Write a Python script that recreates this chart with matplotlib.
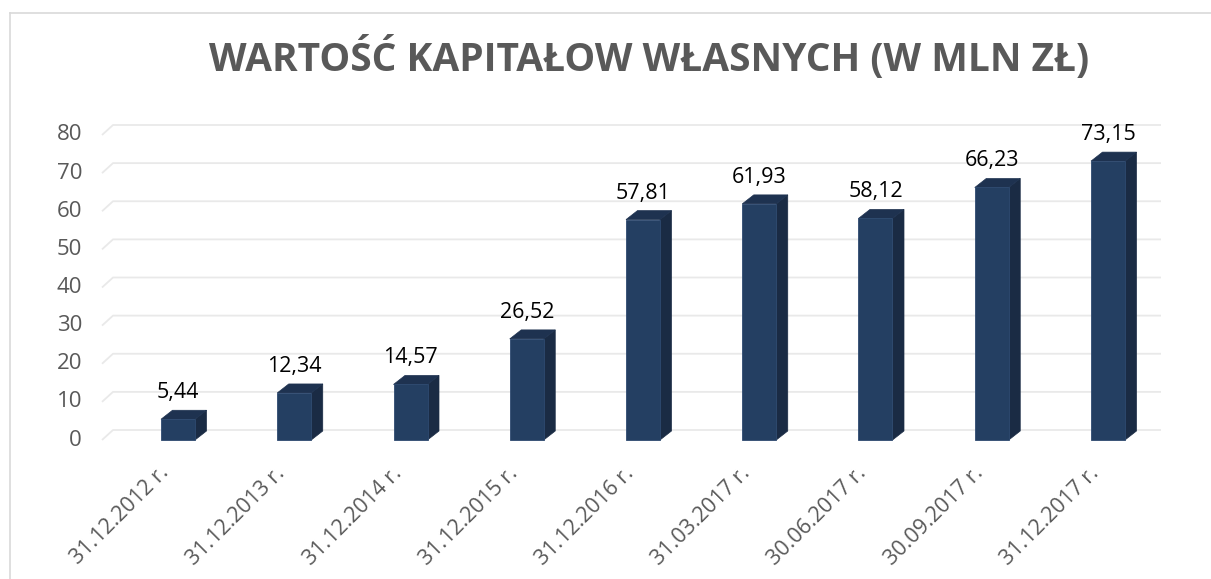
import numpy as np
import matplotlib
matplotlib.use('Agg')
import matplotlib.pyplot as plt
from matplotlib.patches import Polygon
from matplotlib.lines import Line2D

# dane
dates = ['31.12.2012 r.', '31.12.2013 r.', '31.12.2014 r.', '31.12.2015 r.', '31.12.2016 r.',
         '31.03.2017 r.', '30.06.2017 r.', '30.09.2017 r.', '31.12.2017 r.']
values = [5.44, 12.34, 14.57, 26.52, 57.81, 61.93, 58.12, 66.23, 73.15]
value_labels = ['5,44', '12,34', '14,57', '26,52', '57,81', '61,93', '58,12', '66,23', '73,15']
y_ticks = [0, 10, 20, 30, 40, 50, 60, 70, 80]
title = 'WARTOŚĆ KAPITAŁOW WŁASNYCH (W MLN ZŁ)'

front_col = '#243F62'
side_col = '#1A2B44'
top_col = '#1E3250'
grid_col = '#E9E9E9'
text_col = '#595959'

plt.rcParams['font.family'] = ['Open Sans', 'DejaVu Sans']

W, H = 1211, 579
fig = plt.figure(figsize=(W / 100, H / 100), dpi=100)

# os w pikselach (plaszczyzna przednia)
left, right, bottom, top = 102, 1150, 440, 135
ax = fig.add_axes([left / W, 1 - bottom / H, (right - left) / W, (bottom - top) / H])
step = 116.25
x0 = -(178 - left) / step
ax.set_xlim(x0, x0 + (right - left) / step)
ax.set_ylim(0, 80)
ax.axis('off')

px_x = step                      # pikseli na kategorie
px_y = (bottom - top) / 80.0     # pikseli na jednostke
dx = 11.5 / px_x
dy = 9.0 / px_y
gdx = 11.0 / px_x
gdy = 10.0 / px_y

# linie siatki (tylna sciana)
xl, xr = ax.get_xlim()
for t in y_ticks:
    ax.plot([xl, xl + gdx, xr + gdx], [t, t + gdy, t + gdy], color=grid_col, lw=1.3,
            clip_on=False, zorder=1, solid_capstyle='butt')
    ax.annotate(str(t), xy=(xl, t), xytext=(-20, 0), textcoords='offset pixels',
                ha='right', va='center', fontsize=16, color=text_col, annotation_clip=False)

xs = np.arange(len(values))
bw = 34 / step
bars = ax.bar(xs, values, width=bw, color=front_col, edgecolor='#2E4A70', linewidth=0.6,
              zorder=3, clip_on=False)
for i, v in enumerate(values):
    xr_b = i + bw / 2
    xl_b = i - bw / 2
    side = Polygon([(xr_b, 0), (xr_b + dx, dy), (xr_b + dx, v + dy), (xr_b, v)],
                   closed=True, facecolor=side_col, edgecolor=side_col, lw=0.5, zorder=2, clip_on=False)
    topf = Polygon([(xl_b, v), (xl_b + dx, v + dy), (xr_b + dx, v + dy), (xr_b, v)],
                   closed=True, facecolor=top_col, edgecolor=top_col, lw=0.5, zorder=2, clip_on=False)
    ax.add_patch(side)
    ax.add_patch(topf)
    ax.annotate(value_labels[i], xy=(i, v), xytext=(0, 16), textcoords='offset pixels',
                ha='center', va='bottom', fontsize=15.5, color='black', annotation_clip=False)
    ax.annotate(dates[i], xy=(i, 0), xytext=(-12, -30), textcoords='offset pixels',
                ha='right', va='center', rotation=45, rotation_mode='anchor',
                fontsize=15.5, color=text_col, annotation_clip=False)

fig.text(649 / W, 1 - 71 / H, title, ha='center', va='baseline', fontsize=28,
         fontweight='bold', color=text_col)

# ramka wykresu
fig.add_artist(Line2D([10 / W, 1.0], [1 - 13 / H, 1 - 13 / H], transform=fig.transFigure,
                      color='#D9D9D9', lw=1.2))
fig.add_artist(Line2D([10 / W, 10 / W], [0, 1 - 13 / H], transform=fig.transFigure,
                      color='#D9D9D9', lw=1.2))

fig.savefig('out.png', dpi=100, facecolor='white')
